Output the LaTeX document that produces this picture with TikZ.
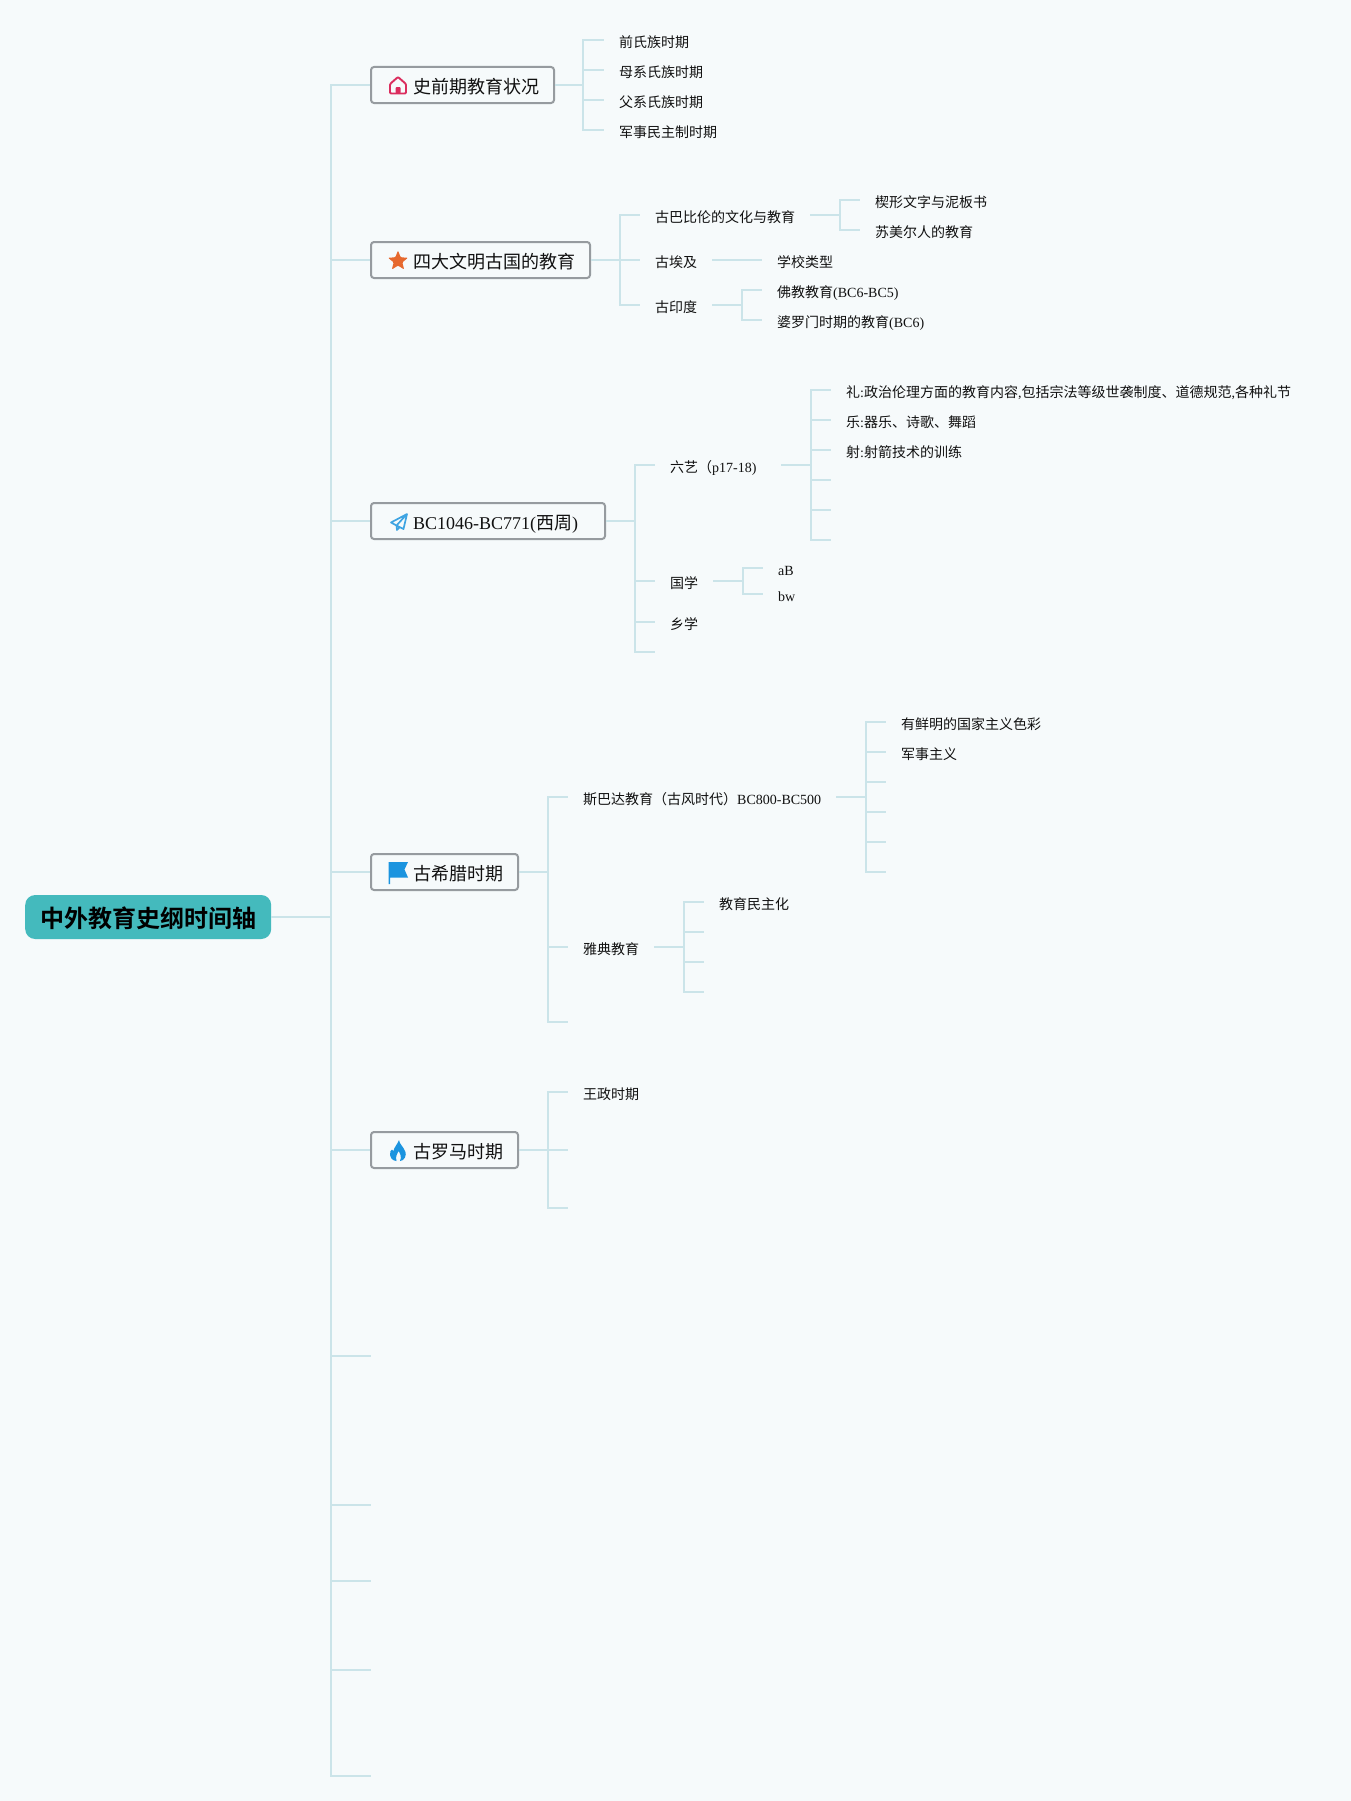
\documentclass[tikz,border=0pt]{standalone}
\usepackage{fontspec}
\usetikzlibrary{shapes.geometric}
\setmainfont{Liberation Serif}
\newfontfamily\cjk{Noto Sans CJK SC}
\newfontfamily\cjkb{Noto Sans CJK SC Bold}
\newcommand{\Cn}[1]{{\cjk #1}}
\definecolor{bgc}{HTML}{F6FAFB}
\definecolor{linec}{HTML}{CBE4E9}
\definecolor{boxline}{HTML}{969B9F}
\definecolor{rootc}{HTML}{44BABD}
\definecolor{ink}{HTML}{111111}
\definecolor{pinkc}{HTML}{DB2D5E}
\definecolor{orangec}{HTML}{E6692E}
\definecolor{bluec}{HTML}{1B94DF}
\definecolor{planec}{HTML}{3EA4E2}
\tikzset{
  conn/.style={draw=linec,line width=2.2pt,line join=miter},
  leaf/.style={anchor=west,inner xsep=15pt,inner ysep=0pt,text height=17pt,text depth=2.4pt,text=ink,font=\fontsize{14}{16}\selectfont},
  topicbox/.style={anchor=west,draw=boxline,line width=2pt,fill=bgc,rounded corners=3pt,inner xsep=0pt,inner ysep=0pt,minimum height=36pt,text height=19.6pt,text depth=2.4pt,text=ink,font=\fontsize{18}{20}\selectfont},
  rootbox/.style={anchor=west,fill=rootc,rounded corners=10pt,inner xsep=15pt,inner ysep=0pt,minimum height=44pt,text height=24pt,text depth=4pt,text=black,font=\fontsize{24}{26}\selectfont},
}
\newcommand{\Top}[1]{\hspace*{42pt}#1\hspace*{15pt}}
\begin{document}
\begin{tikzpicture}[x=1pt,y=-1pt]
\useasboundingbox (0,0) rectangle (1351,1801);
\fill[bgc] (0,0) rectangle (1351,1801);

% root and topics
\node[rootbox] (root) at (25,917) {\cjkb 中外教育史纲时间轴};
\node[topicbox] (t1) at (370,85) {\Top{\Cn{史前期教育状况}}};
\node[topicbox] (t2) at (370,260) {\Top{\Cn{四大文明古国的教育}}};
\node[topicbox] (t3) at (370,521) {\Top{BC1046-BC771(\Cn{西周})\hspace*{12pt}}};
\node[topicbox] (t4) at (370,872) {\Top{\Cn{古希腊时期}}};
\node[topicbox] (t5) at (370,1150) {\Top{\Cn{古罗马时期}}};

% empty trunk ends
\coordinate (tk) at (331,917);
\coordinate (e1) at (371,1356);
\coordinate (e2) at (371,1505);
\coordinate (e3) at (371,1581);
\coordinate (e4) at (371,1670);
\coordinate (e5) at (371,1776);
\draw[conn] (root.east) -- (tk);
\foreach \k in {t1,t2,t3,t4,t5} {\draw[conn] (tk) |- (\k.west);}
\foreach \k in {e1,e2,e3,e4,e5} {\draw[conn] (tk) |- (\k);}

% group 1
\node[leaf] (a1) at (604,40) {\Cn{前氏族时期}};
\node[leaf] (a2) at (604,70) {\Cn{母系氏族时期}};
\node[leaf] (a3) at (604,100) {\Cn{父系氏族时期}};
\node[leaf] (a4) at (604,130) {\Cn{军事民主制时期}};
\coordinate (ba) at (583,85);
\draw[conn] (t1.east) -- (ba);
\foreach \k in {a1,a2,a3,a4} {\draw[conn] (ba) |- (\k.west);}

% group 2
\node[leaf] (b1) at (640,215) {\Cn{古巴比伦的文化与教育}};
\node[leaf] (b2) at (640,260) {\Cn{古埃及}};
\node[leaf] (b3) at (640,305) {\Cn{古印度}};
\coordinate (bb) at (620,260);
\draw[conn] (t2.east) -- (bb);
\foreach \k in {b1,b2,b3} {\draw[conn] (bb) |- (\k.west);}
\node[leaf] (c1) at (860,200) {\Cn{楔形文字与泥板书}};
\node[leaf] (c2) at (860,230) {\Cn{苏美尔人的教育}};
\coordinate (bc) at (840,215);
\draw[conn] (b1.east) -- (bc);
\foreach \k in {c1,c2} {\draw[conn] (bc) |- (\k.west);}
\node[leaf] (d1) at (762,260) {\Cn{学校类型}};
\draw[conn] (b2.east) -- (d1.west);
\node[leaf] (f1) at (762,290) {\Cn{佛教教育}(BC6-BC5)};
\node[leaf] (f2) at (762,320) {\Cn{婆罗门时期的教育}(BC6)};
\coordinate (bf) at (742,305);
\draw[conn] (b3.east) -- (bf);
\foreach \k in {f1,f2} {\draw[conn] (bf) |- (\k.west);}

% group 3
\node[leaf] (g1) at (655,465) {\Cn{六艺（}p17-18)\hspace*{9.3pt}};
\node[leaf] (g2) at (655,581) {\Cn{国学}};
\node[leaf] (g3) at (655,622) {\Cn{乡学}};
\coordinate (g4) at (655,652);
\coordinate (bg) at (635,521);
\draw[conn] (t3.east) -- (bg);
\foreach \k in {g1,g2,g3} {\draw[conn] (bg) |- (\k.west);}
\draw[conn] (bg) |- (g4);
\node[leaf] (h1) at (831,390) {\Cn{礼}:\Cn{政治伦理方面的教育内容}{,}\Cn{包括宗法等级世袭制度、道德规范}{,}\Cn{各种礼节}};
\node[leaf] (h2) at (831,420) {\Cn{乐}:\Cn{器乐、诗歌、舞蹈}};
\node[leaf] (h3) at (831,450) {\Cn{射}:\Cn{射箭技术的训练}};
\coordinate (h4) at (831,480);
\coordinate (h5) at (831,510);
\coordinate (h6) at (831,540);
\coordinate (bh) at (811,465);
\draw[conn] (g1.east) -- (bh);
\foreach \k in {h1,h2,h3} {\draw[conn] (bh) |- (\k.west);}
\foreach \k in {h4,h5,h6} {\draw[conn] (bh) |- (\k);}
\node[leaf] (i1) at (763,568) {aB};
\node[leaf] (i2) at (763,594) {bw};
\coordinate (bi) at (743,581);
\draw[conn] (g2.east) -- (bi);
\foreach \k in {i1,i2} {\draw[conn] (bi) |- (\k.west);}

% group 4
\node[leaf] (j1) at (568,797) {\Cn{斯巴达教育（古风时代）}BC800-BC500};
\node[leaf] (j2) at (568,947) {\Cn{雅典教育}};
\coordinate (j3) at (568,1022);
\coordinate (bj) at (548,872);
\draw[conn] (t4.east) -- (bj);
\foreach \k in {j1,j2} {\draw[conn] (bj) |- (\k.west);}
\draw[conn] (bj) |- (j3);
\node[leaf] (k1) at (886,722) {\Cn{有鲜明的国家主义色彩}};
\node[leaf] (k2) at (886,752) {\Cn{军事主义}};
\coordinate (k3) at (886,782);
\coordinate (k4) at (886,812);
\coordinate (k5) at (886,842);
\coordinate (k6) at (886,872);
\coordinate (bk) at (866,797);
\draw[conn] (j1.east) -- (bk);
\foreach \k in {k1,k2} {\draw[conn] (bk) |- (\k.west);}
\foreach \k in {k3,k4,k5,k6} {\draw[conn] (bk) |- (\k);}
\node[leaf] (l1) at (704,902) {\Cn{教育民主化}};
\coordinate (l2) at (704,932);
\coordinate (l3) at (704,962);
\coordinate (l4) at (704,992);
\coordinate (bl) at (684,947);
\draw[conn] (j2.east) -- (bl);
\draw[conn] (bl) |- (l1.west);
\foreach \k in {l2,l3,l4} {\draw[conn] (bl) |- (\k);}

% group 5
\node[leaf] (m1) at (568,1092) {\Cn{王政时期}};
\coordinate (m2) at (568,1150);
\coordinate (m3) at (568,1208);
\coordinate (bm) at (548,1150);
\draw[conn] (t5.east) -- (bm);
\draw[conn] (bm) |- (m1.west);
\draw[conn] (bm) -- (m2);
\draw[conn] (bm) |- (m3);

% icons
\draw[pinkc,line width=1.9pt,line join=round,rounded corners=1pt] (390,93.5) -- (390,84) -- (398,77) -- (406,84) -- (406,93.5) -- cycle;
\fill[pinkc,rounded corners=1pt] (395.5,93.5) -- (395.5,87) -- (400.5,87) -- (400.5,93.5) -- cycle;
\node[star,star points=5,star point ratio=2.3,fill=orangec,inner sep=0pt,minimum size=21pt,rounded corners=1pt] (ic2) at (398,261) {};
\draw[planec,line width=1.7pt,line join=round] (407,514) -- (391,522.5) -- (396.5,525.5) -- cycle (396.5,525.5) -- (397,530) -- (400,527) (407,514) -- (403.5,529) -- (396.5,525.5);
\fill[bluec] (388.5,862) -- (408,862) -- (404.5,869.5) -- (408,877.5) -- (390,877.5) -- (390,884) -- (388.5,884) -- cycle;
\fill[bluec] (399,1140) .. controls (400,1145) and (402.5,1145.5) .. (404.5,1150) .. controls (408,1156) and (403.5,1161) .. (400,1161) .. controls (402,1157) and (400,1153) .. (398.5,1151) .. controls (397.5,1154) and (395,1156) .. (396.5,1161) .. controls (392.5,1161) and (388.5,1157) .. (390.5,1151) .. controls (391.5,1148.5) and (392.5,1150) .. (393.5,1151) .. controls (394,1147) and (397.5,1144.5) .. (399,1140) -- cycle;
\end{tikzpicture}
\end{document}
